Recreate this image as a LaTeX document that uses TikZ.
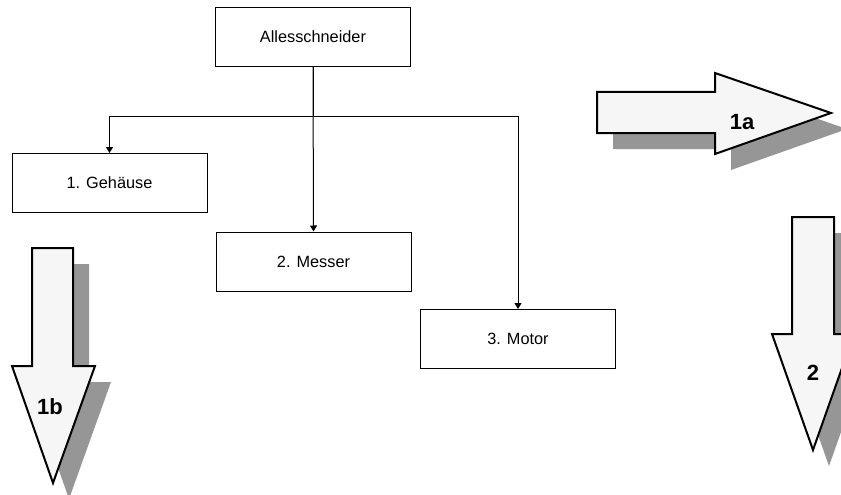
\documentclass[tikz,border=0pt]{standalone}
\usepackage{fontspec}
\setmainfont{Liberation Sans}
\usetikzlibrary{arrows.meta}
\definecolor{arrfill}{HTML}{F6F6F6}
\definecolor{shadowgray}{HTML}{969696}
\tikzset{
  box/.style={draw=black, line width=1pt, minimum width=195pt, minimum height=59pt, inner sep=0pt, font=\fontsize{16.3}{19}\selectfont},
  conn/.style={draw=black, line width=1pt, -{Triangle[width=7pt,length=6pt]}},
  bigarrow/.style={draw=black, line width=2pt, fill=arrfill, line join=miter},
  arrshadow/.style={fill=shadowgray, draw=none},
  arrlabel/.style={font=\bfseries\fontsize{22}{26}\selectfont, inner sep=0pt}
}
\begin{document}
\begin{tikzpicture}[x=1pt, y=-1pt]
\useasboundingbox (0,0) rectangle (841,495);
\clip (0,0) rectangle (841,495);
% boxes
\node[box] (alles) at (313,37) {Allesschneider};
\node[box] (geh) at (109.5,183) {1. Gehäuse};
\node[box] (messer) at (313.5,261.5) {2. Messer};
\node[box] (motor) at (518,339) {3. Motor};
% connectors
\draw[conn] (alles.south) -- (messer.north);
\draw[conn] (alles.south) -- ++(0,49) -| (geh.north);
\draw[conn] (alles.south) -- ++(0,49) -| (motor.north);
% arrow 1a (right)
\begin{scope}[shift={(16,16)}]
\fill[arrshadow] (597,92) -- (715,92) -- (715,73) -- (831,113) -- (715,154) -- (715,133) -- (597,133) -- cycle;
\end{scope}
\draw[bigarrow] (597,92) -- (715,92) -- (715,73) -- (831,113) -- (715,154) -- (715,133) -- (597,133) -- cycle;
\node[arrlabel] (l1a) at (742,122) {1a};
% arrow 1b (down)
\begin{scope}[shift={(16,16)}]
\fill[arrshadow] (32,248) -- (73,248) -- (73,366) -- (95,366) -- (53,483) -- (12,366) -- (32,366) -- cycle;
\end{scope}
\draw[bigarrow] (32,248) -- (73,248) -- (73,366) -- (95,366) -- (53,483) -- (12,366) -- (32,366) -- cycle;
\node[arrlabel] (l1b) at (50,407) {1b};
% arrow 2 (down, right edge)
\begin{scope}[shift={(16,16)}]
\fill[arrshadow] (792,217) -- (834,217) -- (834,334) -- (854,334) -- (813,450) -- (772,334) -- (792,334) -- cycle;
\end{scope}
\draw[bigarrow] (792,217) -- (834,217) -- (834,334) -- (854,334) -- (813,450) -- (772,334) -- (792,334) -- cycle;
\node[arrlabel] (l2) at (813,373) {2};
\end{tikzpicture}
\end{document}
